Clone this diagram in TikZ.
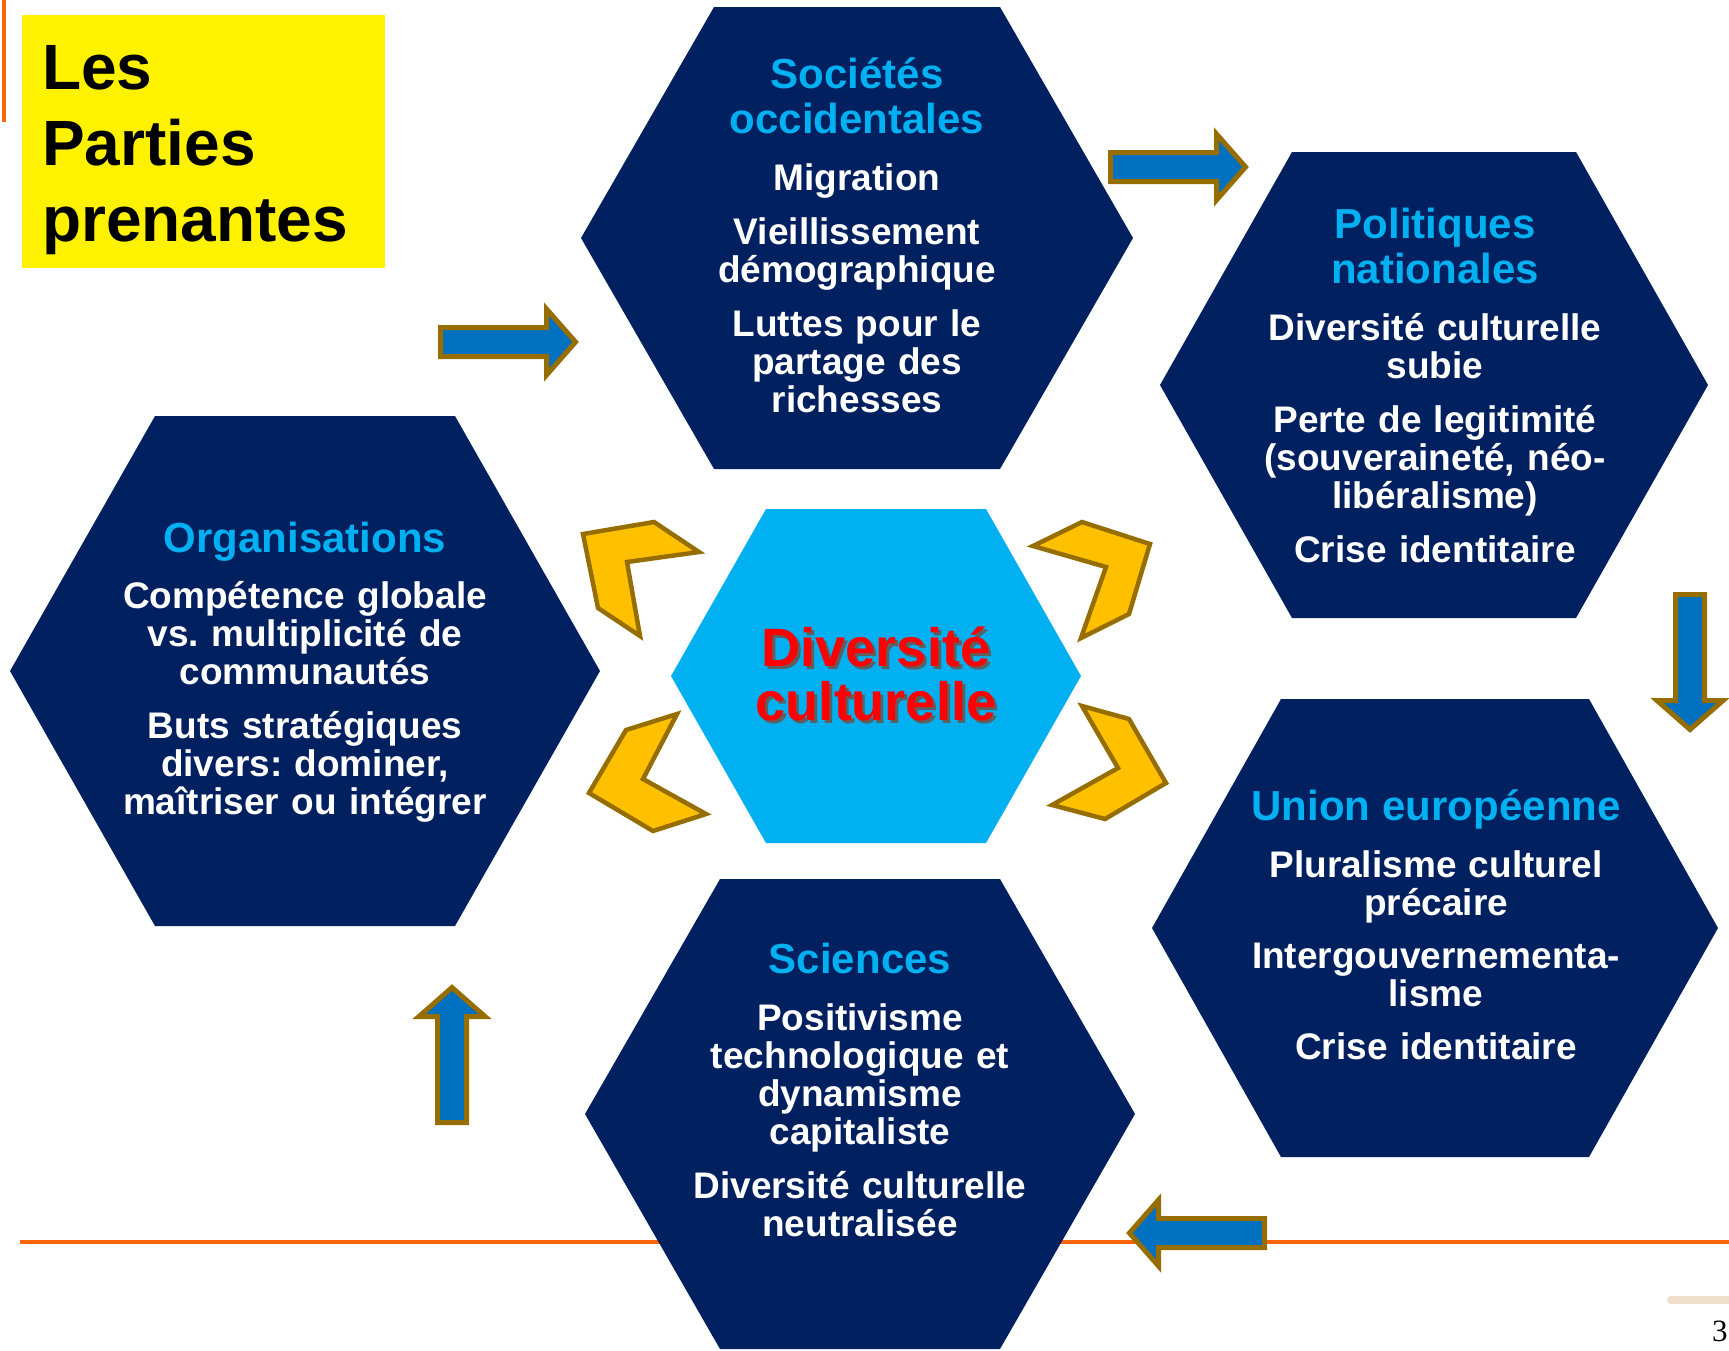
\documentclass[tikz,border=0pt]{standalone}
\usepackage{fontspec}
\setmainfont{Liberation Sans}
\newfontfamily\pagefont{Liberation Serif}
\definecolor{hexnavy}{RGB}{0,32,96}
\definecolor{hexcyan}{RGB}{0,176,240}
\definecolor{arrowblue}{RGB}{0,112,192}
\definecolor{arrowgold}{RGB}{150,110,0}
\definecolor{chevyellow}{RGB}{255,192,0}
\definecolor{ruleorange}{RGB}{250,100,10}
\definecolor{barbeige}{RGB}{238,222,202}
\definecolor{shadowgray}{RGB}{95,95,95}
\frenchspacing
\begin{document}
\begin{tikzpicture}[x=1pt, y=-1pt,
	arrowbox/.style={fill=arrowblue, draw=arrowgold, line width=5pt},
	chevbox/.style={fill=chevyellow, draw=arrowgold, line width=4.5pt},
	hextext/.style={anchor=base, inner sep=0pt, text width=430pt, align=center, text=white, font=\bfseries\fontsize{37}{38}\selectfont},
	divtext/.style={anchor=base, inner sep=0pt, text width=400pt, align=center, text=red, font=\bfseries\fontsize{54}{54}\selectfont}]
	\useasboundingbox (0,0) rectangle (1729,1350);
	\def\hexa#1#2#3#4#5#6{\fill[#6] (#1-#3,#2) -- (#1-#4,#2-#5) -- (#1+#4,#2-#5) -- (#1+#3,#2) -- (#1+#4,#2+#5) -- (#1-#4,#2+#5) -- cycle;}
	\def\bluearrow#1#2#3{\draw[arrowbox, shift={(#1,#2)}, rotate=#3] (0,0) -- (-29,33) -- (-29,14.5) -- (-135,14.5) -- (-135,-14.5) -- (-29,-14.5) -- (-29,-33) -- cycle;}
	\def\headfont{\leavevmode\color{hexcyan}\fontsize{42}{45}\selectfont}
	% slide frame
	\draw[ruleorange, line width=4pt] (4,0) -- (4,122);
	\draw[ruleorange, line width=4pt] (20,1242) -- (1729,1242);
	\draw[barbeige, line width=8pt, line cap=round] (1671,1300) -- (1740,1300);
	\node[anchor=base west, inner sep=0pt, font=\pagefont\fontsize{31}{31}\selectfont] (pagenum) at (1712,1341) {3};
	\fill[yellow] (22,15) rectangle (385,268);
	\node[anchor=base west, inner sep=0pt, text width=360pt, align=left, font=\bfseries\fontsize{64}{76}\selectfont] (title) at (42,89) {Les\\Parties\\prenantes};
	% hexagons
	\hexa{857}{238}{276}{143}{231}{hexnavy}
	\hexa{1434}{385}{274}{142}{233}{hexnavy}
	\hexa{1435}{928}{283}{154}{229}{hexnavy}
	\hexa{860}{1114}{275}{140}{235}{hexnavy}
	\hexa{305}{671}{295}{150}{255}{hexnavy}
	\hexa{876}{676}{205}{110}{167}{hexcyan}
	% arrows round the ring
	\bluearrow{575.5}{342}{0}
	\bluearrow{1245.5}{167}{0}
	\bluearrow{1690}{729.5}{-90}
	\bluearrow{1129.5}{1233}{180}
	\bluearrow{452}{987.5}{90}
	% chevrons round the centre
	\draw[chevbox] (583,534) -- (654,522) -- (699,552) -- (627,562) -- (640,636) -- (598,608) -- cycle;
	\draw[chevbox] (1033,546) -- (1082,522) -- (1150,544) -- (1129,614) -- (1081,638) -- (1106,567) -- cycle;
	\draw[chevbox] (677,714) -- (626,730) -- (589,793) -- (653,831) -- (706,814) -- (643,779) -- cycle;
	\draw[chevbox] (1082,706) -- (1129,719) -- (1166,783) -- (1105,819) -- (1052,805) -- (1118,768) -- cycle;
	% texts
	\node[hextext] (soc) at (857,88) {{\headfont Sociétés\\occidentales\par}\vspace{19pt}Migration\\[16pt]Vieillissement\\démographique\\[16pt]Luttes pour le\\partage des\\richesses};
	\node[hextext] (pol) at (1435,238) {{\headfont Politiques\\nationales\par}\vspace{19pt}Diversité culturelle\\subie\\[16pt]Perte de legitimité\\(souveraineté, néo-\\libéralisme)\\[16pt]Crise identitaire};
	\node[hextext] (ue) at (1436,820) {{\headfont Union européenne\par}\vspace{19pt}Pluralisme culturel\\précaire\\[15pt]Intergouvernementa-\\lisme\\[15pt]Crise identitaire};
	\node[hextext] (sci) at (860,973) {{\headfont Sciences\par}\vspace{19pt}Positivisme\\technologique et\\dynamisme\\capitaliste\\[16pt]Diversité culturelle\\neutralisée};
	\node[hextext] (org) at (305,552) {{\headfont Organisations\par}\vspace{18pt}Compétence globale\\vs. multiplicité de\\communautés\\[16pt]Buts stratégiques\\divers: dominer,\\maîtriser ou intégrer};
	\node[divtext, text=shadowgray] (divshadow) at (879,669) {Diversité\\culturelle};
	\node[divtext] (div) at (876,666) {Diversité\\culturelle};
\end{tikzpicture}
\end{document}
